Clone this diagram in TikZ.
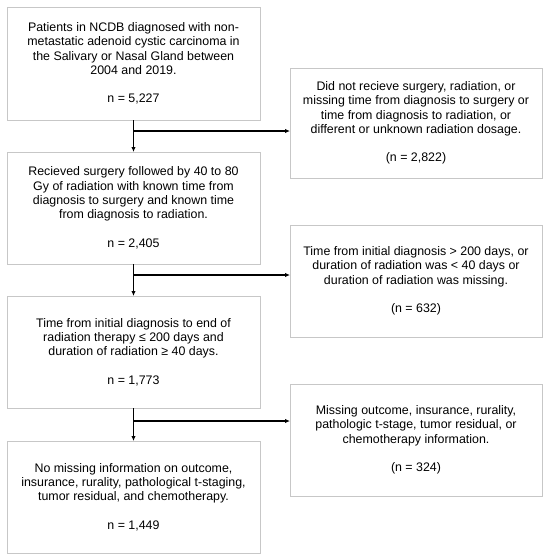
\documentclass[tikz,border=0pt]{standalone}
\usepackage{fontspec}
\setmainfont{Liberation Sans}
\usetikzlibrary{arrows.meta}
\begin{document}
\begin{tikzpicture}[x=1pt,y=-1pt,
  box/.style={draw=black!22, line width=0.9pt, fill=white, minimum width=253pt,
    inner sep=0pt, outer sep=0pt, align=center,
    font=\fontsize{12.4}{14.3}\selectfont},
  conn/.style={line width=1.1pt, draw=black},
  arr/.style={conn, -{Latex[length=5pt,width=4.5pt]}}]
\useasboundingbox (0,0) rectangle (550,560);
\node[box, minimum height=113pt] (b1) at (133.5,63.5)
  {Patients in NCDB diagnosed with non-\\metastatic adenoid cystic carcinoma in\\the Salivary or Nasal Gland between\\2004 and 2019.\\[14.3pt]n = 5,227};
\node[box, minimum width=252pt, minimum height=110pt] (b2) at (416,123)
  {Did not recieve surgery, radiation, or\\missing time from diagnosis to surgery or\\time from diagnosis to radiation, or\\different or unknown radiation dosage.\\[14.3pt](n = 2,822)};
\node[box, minimum height=112pt] (b3) at (133.5,208)
  {Recieved surgery followed by 40 to 80\\Gy of radiation with known time from\\diagnosis to surgery and known time\\from diagnosis to radiation.\\[14.3pt]n = 2,405};
\node[box, minimum width=252pt, minimum height=112pt] (b4) at (416,281)
  {Time from initial diagnosis > 200 days, or\\duration of radiation was < 40 days or\\duration of radiation was missing.\\[14.3pt](n = 632)};
\node[box, minimum height=112pt] (b5) at (133.5,352)
  {Time from initial diagnosis to end of\\radiation therapy ≤ 200 days and\\duration of radiation ≥ 40 days.\\[14.3pt]n = 1,773};
\node[box, minimum width=252pt, minimum height=112pt] (b6) at (416,440)
  {Missing outcome, insurance, rurality,\\pathologic t-stage, tumor residual, or\\chemotherapy information.\\[14.3pt](n = 324)};
\node[box, minimum height=112pt] (b7) at (133.5,497)
  {No missing information on outcome,\\insurance, rurality, pathological t-staging,\\tumor residual, and chemotherapy.\\[14.3pt]n = 1,449};
\coordinate (j1) at (133.5,131);
\coordinate (j2) at (133.5,275);
\coordinate (j3) at (133.5,421);
\draw[arr] (b1.south) -- (b3.north);
\draw[arr] (b3.south) -- (b5.north);
\draw[arr] (b5.south) -- (b7.north);
\draw[arr] (j1) -- (j1 -| b2.west);
\draw[arr] (j2) -- (j2 -| b4.west);
\draw[arr] (j3) -- (j3 -| b6.west);
\end{tikzpicture}
\end{document}
